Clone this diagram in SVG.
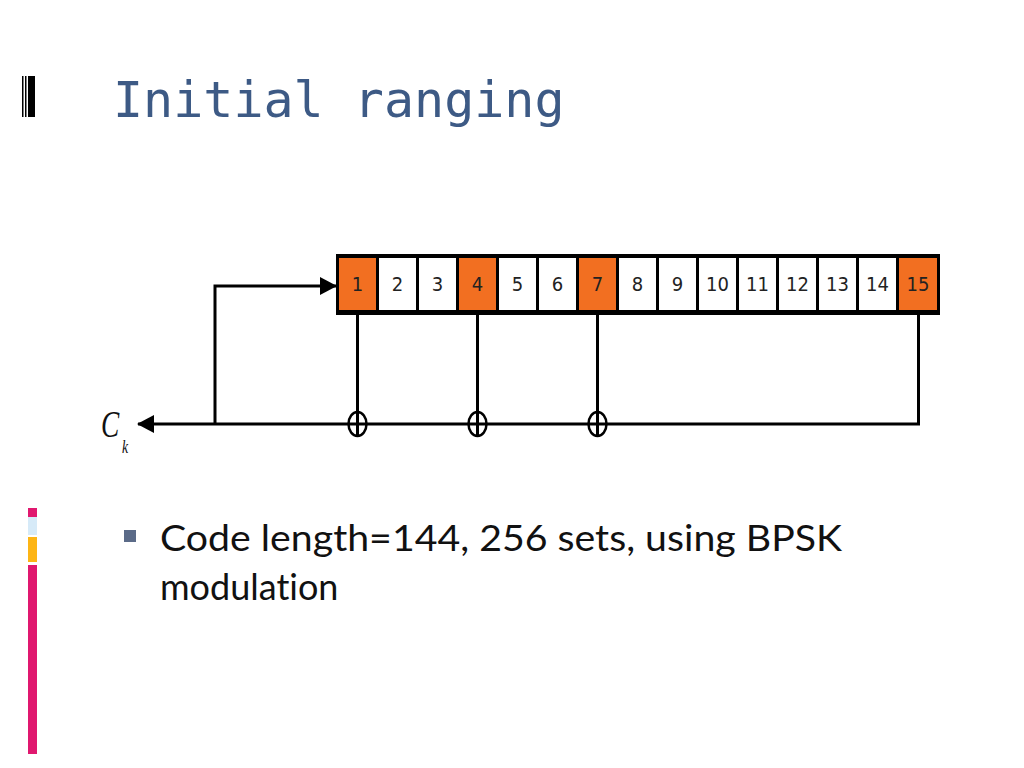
<svg xmlns="http://www.w3.org/2000/svg" width="1024" height="768" viewBox="0 0 1024 768">
<defs>
<style>
.cell{fill:#ffffff}
.on{fill:#F26F21}
.num{font-family:"DejaVu Sans Condensed","Liberation Sans",Arial,sans-serif;font-stretch:condensed;font-size:20px;fill:#222;text-anchor:middle}
.ln{stroke:#000;fill:none;stroke-width:3}
.xor{stroke:#000;fill:#fff;stroke-width:2.5}
</style>
<marker id="ah" markerWidth="17" markerHeight="18" refX="16" refY="9" orient="auto" markerUnits="userSpaceOnUse" viewBox="0 0 17 18">
<path d="M0,0 L17,9 L0,18 z" fill="#000"/>
</marker>
</defs>
<rect width="1024" height="768" fill="#fff"/>
<g id="title-mark">
<rect x="22" y="76" width="1.5" height="41" fill="#000"/>
<rect x="25" y="76" width="1.5" height="41" fill="#000"/>
<rect x="28" y="76" width="7" height="41" fill="#000"/>
</g>
<text x="113" y="117" font-family="'DejaVu Sans Mono',monospace" font-size="50" fill="#3D5A85">Initial ranging</text>
<g id="sidebar">
<rect x="28" y="508" width="9" height="9" fill="#E0186F"/>
<rect x="28" y="517" width="9" height="18" fill="#D6EAF8"/>
<rect x="28" y="537" width="9" height="25" fill="#FDB515"/>
<rect x="28" y="565" width="9" height="189" fill="#E0186F"/>
</g>
<g id="register">
<rect x="336" y="254" width="604" height="61" fill="#000"/>
<rect class="on" x="339" y="258" width="37" height="52"/>
<rect class="cell" x="379" y="258" width="37" height="52"/>
<rect class="cell" x="419" y="258" width="37" height="52"/>
<rect class="on" x="459" y="258" width="37" height="52"/>
<rect class="cell" x="499" y="258" width="37" height="52"/>
<rect class="cell" x="539" y="258" width="37" height="52"/>
<rect class="on" x="579" y="258" width="37" height="52"/>
<rect class="cell" x="619" y="258" width="37" height="52"/>
<rect class="cell" x="659" y="258" width="37" height="52"/>
<rect class="cell" x="699" y="258" width="37" height="52"/>
<rect class="cell" x="739" y="258" width="37" height="52"/>
<rect class="cell" x="779" y="258" width="37" height="52"/>
<rect class="cell" x="819" y="258" width="37" height="52"/>
<rect class="cell" x="859" y="258" width="37" height="52"/>
<rect class="on" x="899" y="258" width="38" height="52"/>
<text class="num" x="357.5" y="291">1</text>
<text class="num" x="397.5" y="291">2</text>
<text class="num" x="437.5" y="291">3</text>
<text class="num" x="477.5" y="291">4</text>
<text class="num" x="517.5" y="291">5</text>
<text class="num" x="557.5" y="291">6</text>
<text class="num" x="597.5" y="291">7</text>
<text class="num" x="637.5" y="291">8</text>
<text class="num" x="677.5" y="291">9</text>
<text class="num" x="717.5" y="291">10</text>
<text class="num" x="757.5" y="291">11</text>
<text class="num" x="797.5" y="291">12</text>
<text class="num" x="837.5" y="291">13</text>
<text class="num" x="877.5" y="291">14</text>
<text class="num" x="918" y="291">15</text>
</g>
<g id="connectors">
<path class="ln" d="M357.5,315 V412"/>
<path class="ln" d="M477.5,315 V412"/>
<path class="ln" d="M597.5,315 V412"/>
<path class="ln" stroke-width="4" d="M918.5,315 V424 H138" marker-end="url(#ah)"/>
<path class="ln" d="M215,424 V286 H336" marker-end="url(#ah)"/>
</g>
<g id="xor1">
<ellipse class="xor" cx="357.5" cy="424" rx="9" ry="12"/>
<path class="ln" stroke-width="2.5" d="M357.5,412 V436 M348.5,424 H366.5"/>
</g>
<g id="xor2">
<ellipse class="xor" cx="477.5" cy="424" rx="9" ry="12"/>
<path class="ln" stroke-width="2.5" d="M477.5,412 V436 M468.5,424 H486.5"/>
</g>
<g id="xor3">
<ellipse class="xor" cx="597.5" cy="424" rx="9" ry="12"/>
<path class="ln" stroke-width="2.5" d="M597.5,412 V436 M588.5,424 H606.5"/>
</g>
<g id="ck">
<text transform="translate(101,437) scale(0.72,1)" font-family="'Liberation Serif','Times New Roman',serif" font-style="italic" font-size="38" fill="#111">C<tspan x="29" y="16" font-size="19">k</tspan></text>
</g>
<g id="bullet">
<rect x="124" y="530" width="12" height="12" fill="#5B6B88"/>
<text x="160" y="551" font-family="Lato,'Open Sans',sans-serif" font-size="36" fill="#111" textLength="682" lengthAdjust="spacingAndGlyphs">Code length=144, 256 sets, using BPSK</text>
<text x="160" y="600" font-family="Lato,'Open Sans',sans-serif" font-size="36" fill="#111" style="font-variant-ligatures:none">modulation</text>
</g>
</svg>
